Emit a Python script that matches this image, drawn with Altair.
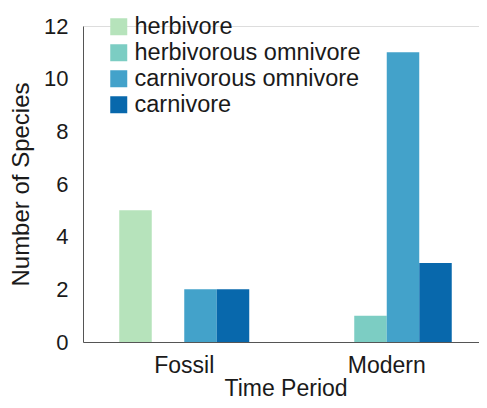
import altair as alt
import pandas as pd

periods = ["Fossil", "Modern"]
diets = ["herbivore", "herbivorous omnivore", "carnivorous omnivore", "carnivore"]
fossil_counts = [5, 0, 2, 2]
modern_counts = [0, 1, 11, 3]
colors = ["#b6e3bb", "#7ccdc3", "#43a2ca", "#0868ac"]
y_ticks = [0, 2, 4, 6, 8, 10, 12]

rows = []
for d, v in zip(diets, fossil_counts):
    rows.append({"period": "Fossil", "diet": d, "count": v})
for d, v in zip(diets, modern_counts):
    rows.append({"period": "Modern", "diet": d, "count": v})
df = pd.DataFrame(rows)

FONT = "Liberation Sans"

chart = alt.Chart(df).mark_bar().encode(
    x=alt.X(
        "period:N",
        sort=periods,
        scale=alt.Scale(range=[0, 405], paddingInner=0.358, paddingOuter=0.179),
        axis=alt.Axis(
            title="Time Period",
            labelAngle=0,
            ticks=False,
            labelPadding=12,
            labelFontSize=23,
            titleFontSize=23,
            titleFontWeight="normal",
            titleY=53,
            titleBaseline="alphabetic",
            domainColor="#555555",
            labelColor="#1a1a1a",
            titleColor="#1a1a1a",
        ),
    ),
    xOffset=alt.XOffset("diet:N", sort=diets, scale=alt.Scale(paddingInner=0, paddingOuter=0)),
    y=alt.Y(
        "count:Q",
        scale=alt.Scale(domain=[0, 12]),
        axis=alt.Axis(
            title="Number of Species",
            values=y_ticks,
            grid=False,
            ticks=False,
            labelPadding=15,
            labelFontSize=22,
            titleFontSize=24,
            titleFontWeight="normal",
            titleX=-50,
            titleY=158,
            domainColor="#555555",
            labelColor="#1a1a1a",
            titleColor="#1a1a1a",
        ),
    ),
    color=alt.Color(
        "diet:N",
        sort=diets,
        scale=alt.Scale(domain=diets, range=colors),
        legend=alt.Legend(
            title=None,
            orient="none",
            legendX=24,
            legendY=-11,
            symbolType="square",
            symbolSize=289,
            symbolStrokeWidth=0,
            symbolOpacity=1,
            labelFontSize=23.5,
            labelLimit=0,
            labelColor="#1a1a1a",
            labelOffset=4,
            rowPadding=1,
            padding=0,
        ),
    ),
).properties(
    width=396,
    height=316,
    autosize=alt.AutoSizeParams(type="none"),
    padding={"left": 75, "top": 18, "right": 0, "bottom": 58},
).configure_view(stroke=None).configure(font=FONT)

chart.save("out.html", embed_options={"renderer": "svg", "actions": False})
